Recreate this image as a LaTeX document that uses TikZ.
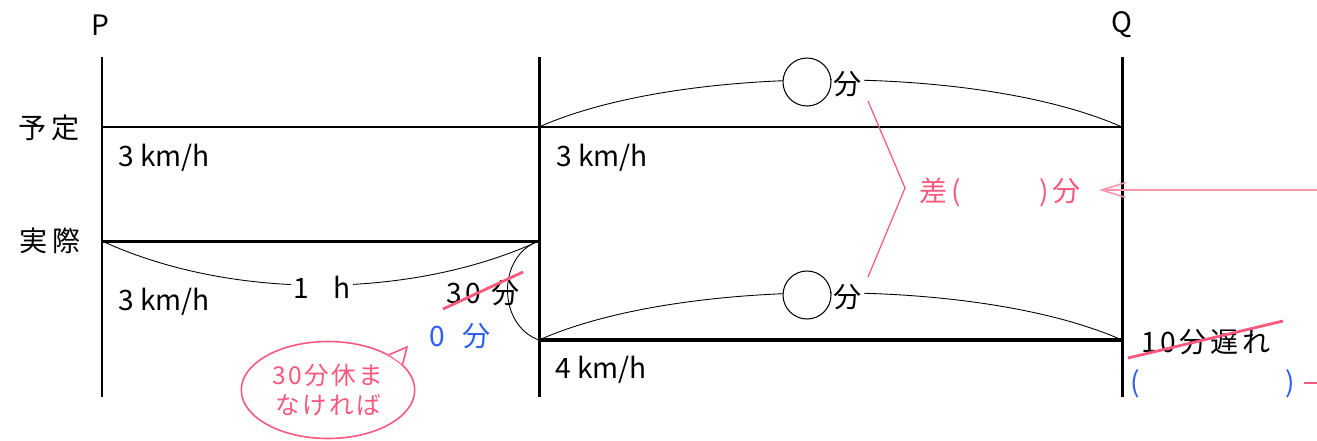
\documentclass[tikz,border=0pt]{standalone}
\usepackage{fontspec}
\setmainfont{Noto Sans CJK JP}
\usetikzlibrary{shapes.geometric, arrows.meta, positioning}
\definecolor{memo}{RGB}{250, 88, 125}
\definecolor{memolight}{RGB}{252, 150, 170}
\definecolor{answer}{RGB}{45, 95, 240}
\tikzstyle{road}     = [line width=1.7pt, black]
\tikzstyle{roadbold} = [line width=2.8pt, black]
\tikzstyle{arcline}  = [line width=0.5pt, black]
\tikzstyle{txt}      = [font=\fontsize{16}{18}\selectfont, inner sep=1pt]
\tikzstyle{jp}       = [font=\fontsize{16}{18}\selectfont\addfontfeature{LetterSpace=12}, inner sep=1pt]
\tikzstyle{masked}   = [txt, fill=white]
\tikzstyle{memotxt}  = [jp, text=memo]
\tikzstyle{anstxt}   = [txt, text=answer]
\tikzstyle{strike}   = [memo, line width=1.6pt]
\tikzstyle{blank}    = [circle, draw=black, line width=0.6pt, fill=white, minimum size=0.96cm]
\tikzstyle{arrow}    = [-{Straight Barb[length=4.8mm, width=3mm]}, memolight, line width=0.9pt]

\begin{document}
\begin{tikzpicture}[x=0.02cm, y=-0.02cm]
  \useasboundingbox (0,0) rectangle (1317,440);

  % Stations
  \node (P) [txt] at (100,25)  {P};
  \node (Q) [txt] at (1122,25) {Q};
  \coordinate (Ptop) at (102,57);   \coordinate (Pbot) at (102,397);
  \coordinate (Mtop) at (539,57);   \coordinate (Mbot) at (539,397);
  \coordinate (Qtop) at (1122,57);  \coordinate (Qbot) at (1122,397);
  \draw [road] (Ptop) -- (Pbot);
  \draw [road] (Mtop) -- (Mbot);
  \draw [road] (Qtop) -- (Qbot);

  % Plan
  \node (plan) [jp] at (49,128) {予\,定};
  \coordinate (planP) at (102,127);
  \coordinate (planM) at (539,127);
  \coordinate (planQ) at (1122,127);
  \draw [road] (planP) -- (planQ);
  \node (v1) [txt] at (164,158) {3 km/h};
  \node (v2) [txt] at (602,158) {3 km/h};

  % Actual
  \node (real) [jp] at (50,241) {実\,際};
  \coordinate (realP) at (102,241);
  \coordinate (realM) at (539,241);
  \coordinate (lateM) at (539,340);
  \coordinate (lateQ) at (1122,340);
  \draw [road] (realP) -- (realM);
  \draw [roadbold] (lateM) -- (lateQ);
  \node (v3) [txt] at (164,302) {3 km/h};
  \node (v4) [txt] at (601,370) {4 km/h};

  % Time arcs
  \draw [arcline] (planM) .. controls (680,64) and (980,64) .. (planQ);
  \draw [arcline] (lateM) .. controls (680,277) and (980,277) .. (lateQ);
  \draw [arcline] (realP) .. controls (230,300) and (410,300) .. (realM);
  \draw [arcline] (realM) .. controls (497,255) and (497,325) .. (lateM);
  \node (hour)  [masked] at (322,287) {1\hspace{0.9em}h};
  \node (c1) [blank] at (807,82) {};
  \node (m1) [masked] at (848,84) {分};
  \node (c2) [blank] at (807,295) {};
  \node (m2) [masked] at (848,297) {分};

  % Rest
  \node (rest) [jp] at (483,293) {30 分};
  \coordinate (s1a) at (443,309); \coordinate (s1b) at (523,272);
  \draw [strike] (s1a) -- (s1b);
  \node (zero) [anstxt] at (460,336) {0\hspace{0.6em}分};

  % Bubble
  \node (bubble) [ellipse, draw=memo, line width=0.9pt, fill=white, minimum width=3.2cm,
                  minimum height=1.94cm, text=memo, align=center,
                  font=\fontsize{14}{17}\selectfont\addfontfeature{LetterSpace=10}] at (328,390)
                 {30分休ま\\なければ};
  \coordinate (tip) at (407,347);
  \fill [white] (bubble.30) -- (tip) -- (bubble.19) -- cycle;
  \draw [memo, line width=0.9pt] (bubble.30) -- (tip) -- (bubble.19);

  % Difference
  \coordinate (b1) at (868,101); \coordinate (b2) at (905,188); \coordinate (b3) at (868,277);
  \draw [memo, line width=0.7pt] (b1) -- (b2) -- (b3);
  \node (diff) [memotxt] at (1000,192) {差(\hspace{2.8em})分};
  \coordinate (arrstart) at (1317,190);
  \coordinate (arrtip) at (1099,190);
  \draw [arrow] (arrstart) -- (arrtip);

  % Delay
  \node (delay) [jp] at (1206,342) {10分遅れ};
  \coordinate (s2a) at (1128,358); \coordinate (s2b) at (1283,321);
  \draw [strike] (s2a) -- (s2b);
  \node (lp) [anstxt] at (1135,384) {(};
  \node (rp) [anstxt] at (1290,384) {)};
  \coordinate (d1) at (1304,383); \coordinate (d2) at (1317,383);
  \draw [memo, line width=0.7pt] (d1) -- (d2);
\end{tikzpicture}
\end{document}
